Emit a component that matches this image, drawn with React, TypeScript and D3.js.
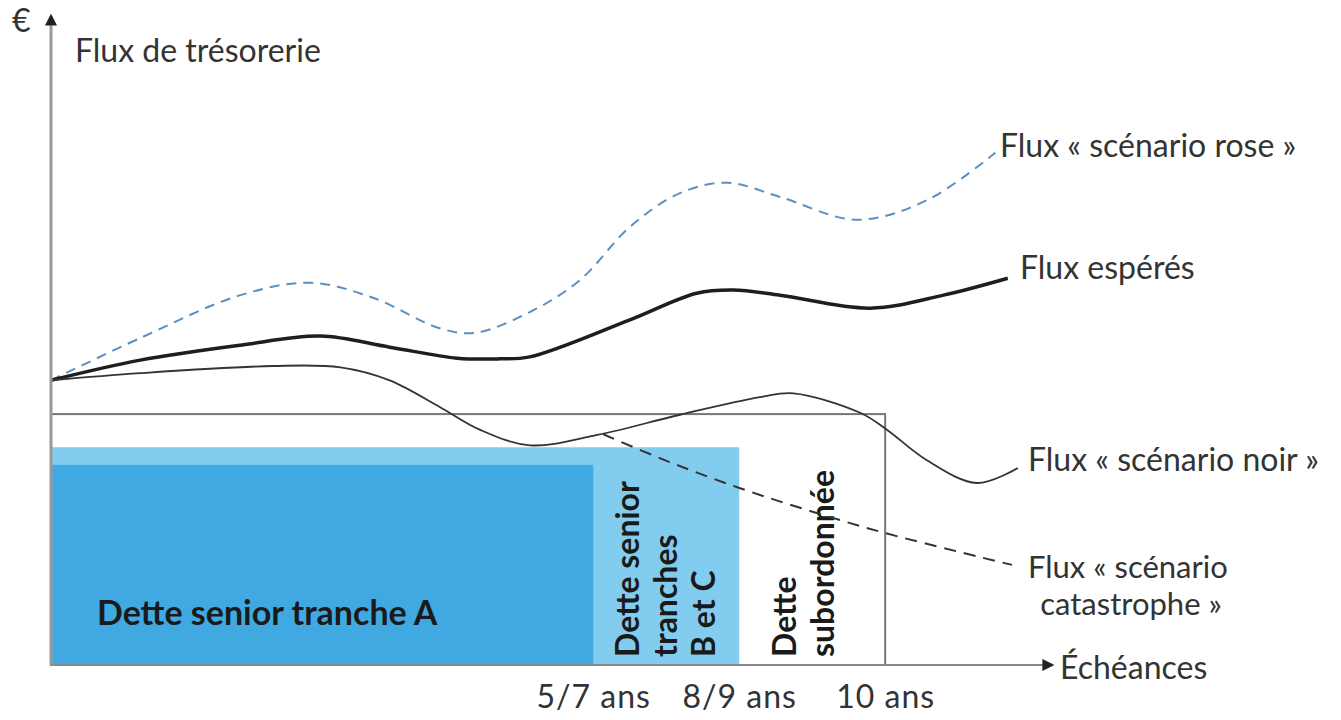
import React, { useEffect, useRef } from 'react';
import * as d3 from 'd3';

interface Pt {
  t: number;
  v: number;
}

// years on the x axis, cash flow level (arbitrary units) on y
const fluxRose: Pt[] = [
  { t: 0, v: 43.8 }, { t: 1.07, v: 50.3 }, { t: 2.27, v: 56.9 }, { t: 3.11, v: 58.8 },
  { t: 3.86, v: 56.5 }, { t: 4.66, v: 51.8 }, { t: 5.08, v: 51.1 }, { t: 5.74, v: 54.3 },
  { t: 6.34, v: 59.2 }, { t: 6.94, v: 67.4 }, { t: 7.54, v: 72.6 }, { t: 8.11, v: 74.2 },
  { t: 8.74, v: 72.0 }, { t: 9.66, v: 68.5 }, { t: 10.5, v: 71.5 }, { t: 11.32, v: 78.8 },
];

const fluxEsperes: Pt[] = [
  { t: 0, v: 43.8 }, { t: 1.07, v: 46.9 }, { t: 2.27, v: 49.2 }, { t: 3.23, v: 50.6 },
  { t: 4.06, v: 48.9 }, { t: 4.87, v: 47.2 }, { t: 5.38, v: 47.1 }, { t: 5.74, v: 47.4 },
  { t: 6.94, v: 53.1 }, { t: 7.74, v: 57.2 }, { t: 8.18, v: 57.7 }, { t: 8.74, v: 56.9 },
  { t: 9.82, v: 54.9 }, { t: 10.7, v: 56.9 }, { t: 11.47, v: 59.5 },
];

const fluxNoir: Pt[] = [
  { t: 0, v: 43.8 }, { t: 1.07, v: 44.9 }, { t: 2.66, v: 46.0 }, { t: 3.47, v: 45.8 },
  { t: 4.06, v: 43.8 }, { t: 4.66, v: 39.7 }, { t: 5.14, v: 36.2 }, { t: 5.74, v: 33.8 },
  { t: 6.55, v: 35.4 }, { t: 7.54, v: 38.5 }, { t: 8.5, v: 41.2 }, { t: 8.9, v: 41.8 },
  { t: 9.7, v: 38.8 }, { t: 10.02, v: 36.2 }, { t: 10.5, v: 31.5 }, { t: 11.1, v: 28.0 },
  { t: 11.59, v: 30.3 },
];

const fluxCatastrophe: Pt[] = [
  { t: 6.62, v: 35.5 }, { t: 7.42, v: 31.2 }, { t: 8.26, v: 27.2 },
  { t: 9.1, v: 23.7 }, { t: 10.0, v: 20.3 }, { t: 11.52, v: 15.4 },
];

// debt tranches: maturity (years) and level
const trancheNames = ['Dette subordonnée', 'Dette senior tranches B et C', 'Dette senior tranche A'];
const trancheEnds = [10, 8.25, 6.5];
const trancheLevels = [38.6, 33.5, 30.8];

const tickValues = [6.5, 8.25, 10];
const tickLabels = ['5/7 ans', '8/9 ans', '10 ans'];

const FONT = 'Lato, "Open Sans", sans-serif';

const App: React.FC = () => {
  const svgRef = useRef<SVGSVGElement>(null);

  useEffect(() => {
    document.body.style.margin = '0';
    if (!svgRef.current) return;

    const svg = d3.select(svgRef.current);
    svg.selectAll('*').remove();

    const x = d3.scaleLinear().domain([0, 12]).range([51, 1052]);
    const y = d3.scaleLinear().domain([0, 100]).range([665, 15]);

    const defs = svg.append('defs');
    defs
      .append('marker')
      .attr('id', 'arrow')
      .attr('viewBox', '0 0 10 10')
      .attr('refX', 8)
      .attr('refY', 5)
      .attr('markerWidth', 12)
      .attr('markerHeight', 12)
      .attr('markerUnits', 'userSpaceOnUse')
      .attr('orient', 'auto')
      .append('path')
      .attr('d', 'M0,0 L10,5 L0,10 Z')
      .attr('fill', '#222');

    // tranches
    const fills = ['#ffffff', '#82cdef', '#40a9e2'];
    trancheEnds.forEach((end, i) => {
      svg
        .append('rect')
        .attr('x', x(0))
        .attr('y', y(trancheLevels[i]))
        .attr('width', x(end) - x(0))
        .attr('height', y(0) - y(trancheLevels[i]))
        .attr('fill', fills[i])
        .attr('stroke', i === 0 ? '#777' : 'none')
        .attr('stroke-width', 2);
    });

    // tranche labels
    svg
      .append('text')
      .attr('x', 97)
      .attr('y', 625)
      .attr('font-family', FONT)
      .attr('font-weight', 700)
      .attr('font-size', 34)
      .attr('fill', '#1a1a1a')
      .text(trancheNames[2]);

    const vertical = (cx: number, lines: string[]) => {
      lines.forEach((line, k) => {
        svg
          .append('text')
          .attr('transform', `translate(${cx + k * 38},657) rotate(-90)`)
          .attr('font-family', FONT)
          .attr('font-weight', 700)
          .attr('font-size', 32)
          .attr('fill', '#1a1a1a')
          .text(line);
      });
    };
    vertical(639, ['Dette senior', 'tranches', 'B et C']);
    vertical(796, ['Dette', 'subordonnée']);

    // curves
    const line = d3
      .line<Pt>()
      .x((d) => x(d.t))
      .y((d) => y(d.v))
      .curve(d3.curveCatmullRom.alpha(0.5));

    svg
      .append('path')
      .attr('d', line(fluxRose))
      .attr('fill', 'none')
      .attr('stroke', '#5b8fc4')
      .attr('stroke-width', 2)
      .attr('stroke-dasharray', '10 7');

    svg
      .append('path')
      .attr('d', line(fluxEsperes))
      .attr('fill', 'none')
      .attr('stroke', '#1e1e1e')
      .attr('stroke-width', 3.5);

    svg
      .append('path')
      .attr('d', line(fluxNoir))
      .attr('fill', 'none')
      .attr('stroke', '#333')
      .attr('stroke-width', 1.8);

    svg
      .append('path')
      .attr('d', line(fluxCatastrophe))
      .attr('fill', 'none')
      .attr('stroke', '#333')
      .attr('stroke-width', 2)
      .attr('stroke-dasharray', '12 8');

    // axes
    svg
      .append('line')
      .attr('x1', x(0))
      .attr('y1', y(0))
      .attr('x2', 1052)
      .attr('y2', y(0))
      .attr('stroke', '#888')
      .attr('stroke-width', 2)
      .attr('marker-end', 'url(#arrow)');

    svg
      .append('line')
      .attr('x1', x(0))
      .attr('y1', y(0))
      .attr('x2', x(0))
      .attr('y2', 16)
      .attr('stroke', '#999')
      .attr('stroke-width', 3)
      .attr('marker-end', 'url(#arrow)');

    const xAxis = svg
      .append('g')
      .attr('transform', `translate(0,${y(0)})`)
      .call(
        d3
          .axisBottom(x)
          .tickValues(tickValues)
          .tickSize(0)
          .tickPadding(20)
          .tickFormat((_, i) => tickLabels[i])
      );
    xAxis.select('.domain').remove();
    xAxis
      .selectAll('text')
      .attr('font-family', FONT)
      .attr('font-size', 32)
      .attr('letter-spacing', 1)
      .attr('fill', '#333');

    const label = (tx: number, ty: number, txt: string, anchor = 'start', size = 32) =>
      svg
        .append('text')
        .attr('x', tx)
        .attr('y', ty)
        .attr('text-anchor', anchor)
        .attr('font-family', FONT)
        .attr('font-size', size)
        .attr('fill', '#333')
        .text(txt);

    label(12, 32, '€');
    label(75, 62, 'Flux de trésorerie');
    label(1060, 679, 'Échéances');
    label(1000, 157, 'Flux « scénario rose »');
    label(1020, 279, 'Flux espérés');
    label(1028, 471, 'Flux « scénario noir »');
    label(1028, 578, 'Flux « scénario', 'start', 31);
    label(1131, 615, 'catastrophe »', 'middle', 31);
  }, []);

  return <svg ref={svgRef} width={1341} height={720} style={{ display: 'block', background: '#fff' }} />;
};

export default App;
